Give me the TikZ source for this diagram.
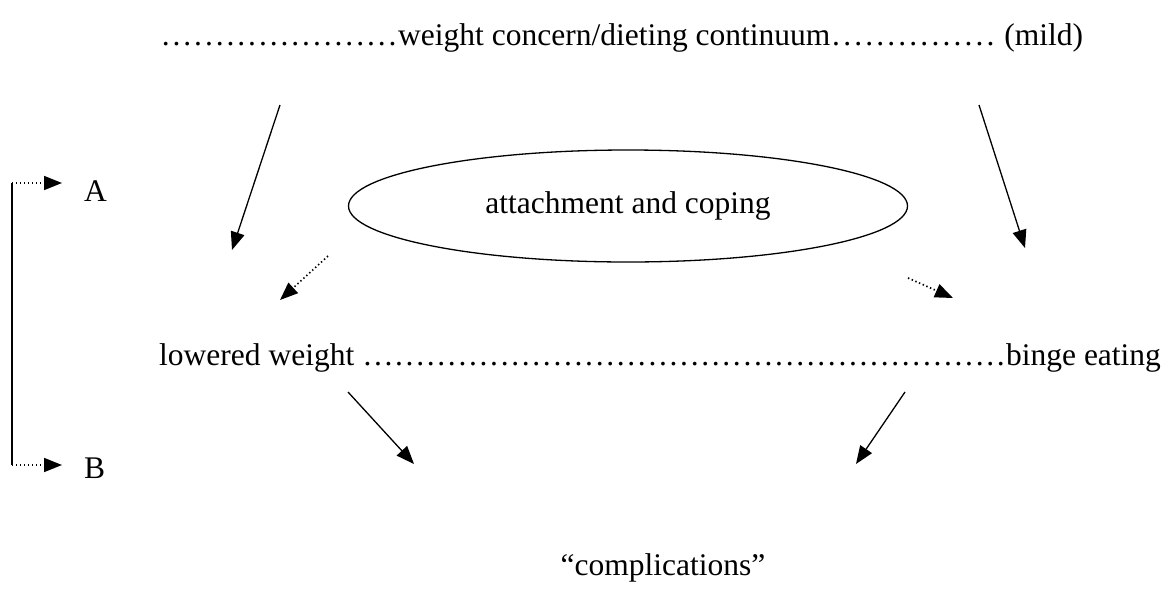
\documentclass[tikz,border=0pt]{standalone}
\usepackage{fontspec}
\setmainfont{Liberation Serif}
\usetikzlibrary{arrows.meta,shapes.geometric}
% a run of leader dots of a given width
\newcommand\dotrun[1]{\hbox to #1{\xleaders\hbox to 10.5pt{\hss.\hss}\hfill}}
\begin{document}
\begin{tikzpicture}[x=1pt,y=-1pt,
  lbl/.style={inner sep=0pt,anchor=base west,font=\fontsize{31.5}{36}\selectfont},
  solidarrow/.style={line width=1.3pt,-{Triangle[length=18pt,width=14pt]}},
  dotarrow/.style={line width=1.7pt,dash pattern=on 1.4pt off 2.6pt,-{Triangle[length=18pt,width=14pt]}},
  bracket/.style={line width=1.3pt}]
\useasboundingbox (0,0) rectangle (1171,595);

% text
\node[lbl] (cont) at (160,45) {\dotrun{238pt}weight concern/dieting continuum\dotrun{166pt} (mild)};
\node[draw,ellipse,line width=1.3pt,minimum width=559pt,minimum height=112pt,inner sep=0pt,
      font=\fontsize{31.5}{36}\selectfont] (att) at (628,206) {attachment and coping};
\node[lbl] (low) at (159,365) {lowered weight \dotrun{644pt}binge eating};
\node[lbl,anchor=base] (comp) at (663,575) {“complications”};
\node[lbl] (A) at (84,201) {A};
\node[lbl] (B) at (84,478) {B};

% arrow end points
\coordinate (l1s) at (280,105); \coordinate (l1e) at (232,250);
\coordinate (r1s) at (979,105); \coordinate (r1e) at (1025,248);
\coordinate (l2s) at (328,256); \coordinate (l2e) at (280,300);
\coordinate (r2s) at (908,278); \coordinate (r2e) at (953,298);
\coordinate (l3s) at (348,392); \coordinate (l3e) at (414,464);
\coordinate (r3s) at (905,392); \coordinate (r3e) at (856,464);
\coordinate (bA) at (12,183); \coordinate (bB) at (12,465);
\coordinate (tA) at (62,183); \coordinate (tB) at (62,465);

\draw[solidarrow] (l1s) -- (l1e);
\draw[solidarrow] (r1s) -- (r1e);
\draw[dotarrow] (l2s) -- (l2e);
\draw[dotarrow] (r2s) -- (r2e);
\draw[solidarrow] (l3s) -- (l3e);
\draw[solidarrow] (r3s) -- (r3e);

% bracket joining A and B
\draw[bracket] (bA) -- (bB);
\draw[dotarrow] (bA) -- (tA);
\draw[dotarrow] (bB) -- (tB);
\end{tikzpicture}
\end{document}
